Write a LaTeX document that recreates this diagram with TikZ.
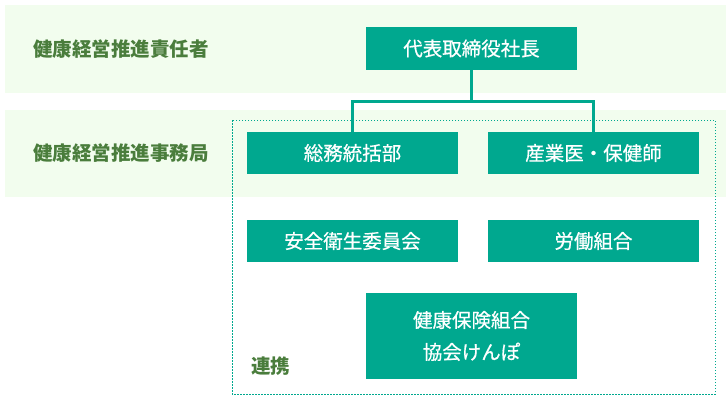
\documentclass[tikz,border=0pt]{standalone}
\usepackage{fontspec}
\newfontfamily\jp{Noto Sans CJK JP}
\newfontfamily\jpm[FakeBold=0.6]{Noto Sans CJK JP}
\definecolor{teal1}{HTML}{00A88F}
\definecolor{band}{HTML}{F2FDEE}
\definecolor{labgreen}{HTML}{4A7D3C}
\begin{document}
\begin{tikzpicture}[x=1bp,y=-1bp,
  box/.style={fill=teal1,text=white,minimum width=211bp,minimum height=42bp,inner sep=0pt,font=\jpm\fontsize{19.5bp}{32bp}\selectfont,align=center},
  lab/.style={anchor=west,text=labgreen,inner sep=0pt,font=\jp\bfseries\fontsize{19.5bp}{24bp}\selectfont},
  conn/.style={draw=teal1,line width=3bp},
  frame/.style={draw=teal1,line width=1bp,dash pattern=on 1.5bp off 1.5bp}]
\useasboundingbox (0,0) rectangle (726,408);
\fill[band] (5,5) rectangle (726,93);
\fill[band] (5,110) rectangle (726,197);
\node[lab] (lab1) at (33,49) {健康経営推進責任者};
\node[lab] (lab2) at (33,153) {健康経営推進事務局};
\draw[frame] (232,120) rectangle (715,394);
\node[box,minimum height=43bp] (ceo) at (471.5,48.5) {代表取締役社長};
\node[box] (soumu) at (352.5,153) {総務統括部};
\node[box] (sangyo) at (593.5,153) {産業医・保健師};
\node[box] (anzen) at (352.5,241) {安全衛生委員会};
\node[box] (roudou) at (593.5,241) {労働組合};
\node[box,minimum height=86bp] (kenpo) at (471.5,336) {健康保険組合\\協会けんぽ};
\node[lab] (renkei) at (251,366) {連携};
\coordinate (jn) at (ceo.south |- 0,101);
\draw[conn] (ceo.south) -- (jn);
\draw[conn] (soumu.north) |- (jn) -| (sangyo.north);
\end{tikzpicture}
\end{document}
